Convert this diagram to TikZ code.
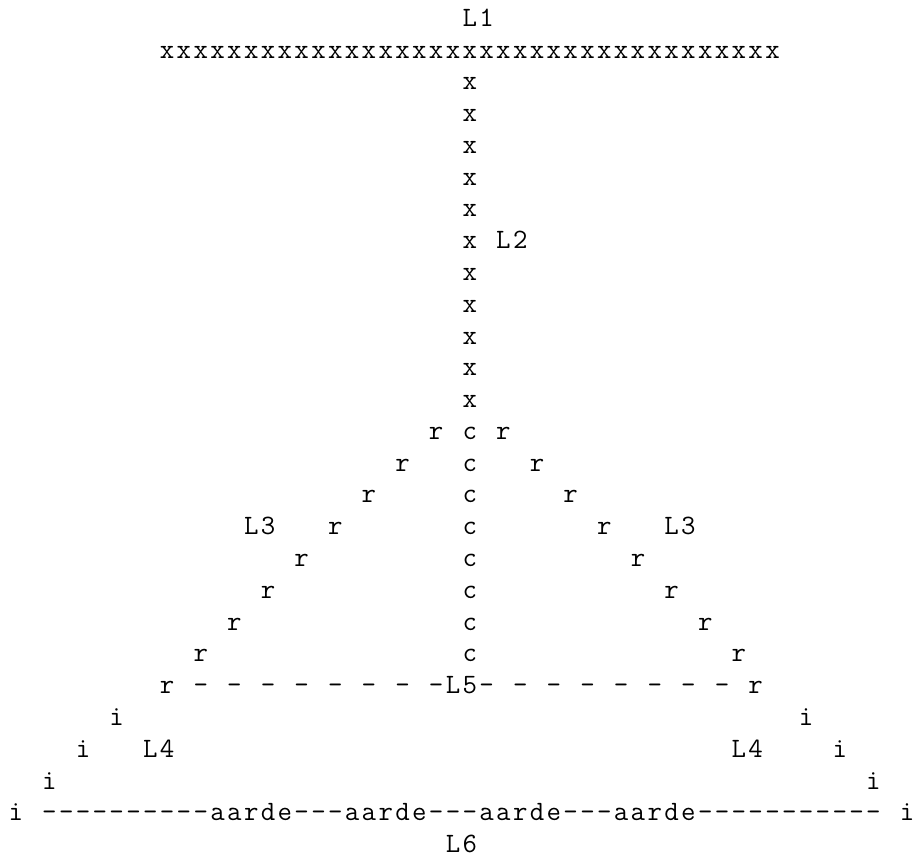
\documentclass[tikz,border=0pt]{standalone}
\usepackage{tikz}
\newcommand{\asciifont}{\fontsize{20}{20}\fontseries{l}\selectfont\ttfamily}
\newlength{\chw}
\setlength{\chw}{12pt}
\makeatletter
\newcommand{\cells}[1]{\@tfor\ch:=#1\do{\makebox[\chw][c]{\ch}}}
\makeatother
\tikzset{chr/.style={anchor=base west, inner sep=0pt, outer sep=0pt, font=\asciifont}}

\begin{document}
\begin{tikzpicture}[x=\chw, y=-22.68pt]
    \useasboundingbox (-0.44,-0.827) rectangle (54.035,26.1);

    \node[chr] (L1) at (27,0) {\cells{L1}};
    \node[chr] (bar) at (9,1) {\cells{xxxxxxxxxxxxxxxxxxxxxxxxxxxxxxxxxxxxx}};
    \foreach \k in {2,...,12} \node[chr] (x\k) at (27,\k) {\cells{x}};
    \node[chr] (L2) at (29,7) {\cells{L2}};

    \foreach \k in {0,...,7} {
        \node[chr] (c\k) at (27,13+\k) {\cells{c}};
        \node[chr] (rl\k) at (25-2*\k,13+\k) {\cells{r}};
        \node[chr] (rr\k) at (29+2*\k,13+\k) {\cells{r}};
    }
    \node[chr] (L3l) at (14,16) {\cells{L3}};
    \node[chr] (L3r) at (39,16) {\cells{L3}};

    \node[chr] (rl8) at (9,21) {\cells{r}};
    \foreach \k in {11,13,...,25} \node[chr] (dl\k) at (\k,21) {\cells{-}};
    \node[chr] (L5) at (26,21) {\cells{L5}};
    \foreach \k in {28,30,...,42} \node[chr] (dr\k) at (\k,21) {\cells{-}};
    \node[chr] (rr8) at (44,21) {\cells{r}};

    \node[chr] (il1) at (6,22) {\cells{i}};
    \node[chr] (ir1) at (47,22) {\cells{i}};
    \node[chr] (il2) at (4,23) {\cells{i}};
    \node[chr] (L4l) at (8,23) {\cells{L4}};
    \node[chr] (L4r) at (43,23) {\cells{L4}};
    \node[chr] (ir2) at (49,23) {\cells{i}};
    \node[chr] (il3) at (2,24) {\cells{i}};
    \node[chr] (ir3) at (51,24) {\cells{i}};

    \node[chr] (il4) at (0,25) {\cells{i}};
    \node[chr] (ground) at (2,25) {\cells{----------aarde---aarde---aarde---aarde-----------}};
    \node[chr] (ir4) at (53,25) {\cells{i}};
    \node[chr] (L6) at (26,26) {\cells{L6}};
\end{tikzpicture}
\end{document}
